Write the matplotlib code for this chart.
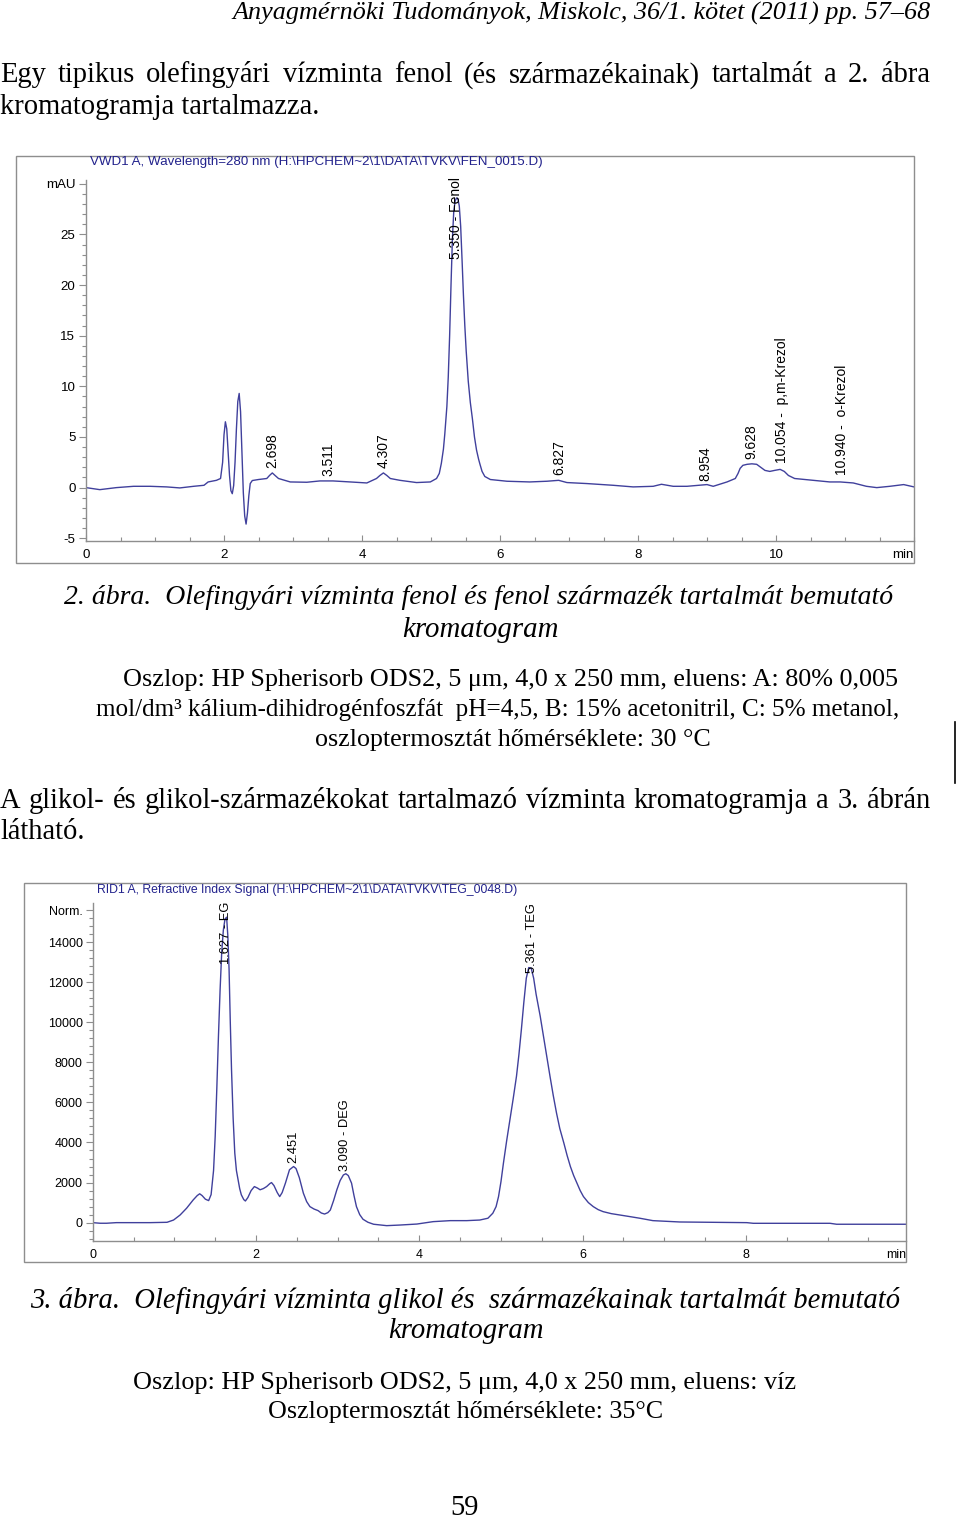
import matplotlib

matplotlib.use("Agg")
import matplotlib.pyplot as plt
from matplotlib.patches import Rectangle
from matplotlib.ticker import MultipleLocator

W, H = 960, 1520

# --- 2. abra: VWD1 A, 280 nm (mAU vs min) ---
fen_time = [0.00, 0.20, 0.44, 0.69, 0.93, 1.17, 1.36, 1.56, 1.71, 1.77, 1.89, 1.95,
            1.98, 2.00, 2.02, 2.04, 2.06, 2.08, 2.10, 2.12, 2.14, 2.16, 2.18, 2.20,
            2.22, 2.24, 2.26, 2.28, 2.30, 2.32, 2.34, 2.36, 2.38, 2.41, 2.50, 2.62,
            2.66, 2.70, 2.74, 2.79, 2.96, 3.20, 3.39, 3.58, 3.83, 4.07, 4.21, 4.26,
            4.31, 4.36, 4.41, 4.55, 4.79, 4.99, 5.08, 5.12, 5.15, 5.18, 5.20, 5.23,
            5.25, 5.27, 5.29, 5.31, 5.33, 5.35, 5.37, 5.39, 5.41, 5.43, 5.45, 5.47,
            5.49, 5.51, 5.54, 5.57, 5.60, 5.63, 5.66, 5.69, 5.71, 5.74, 5.78, 5.86,
            6.10, 6.43, 6.68, 6.85, 6.97, 7.26, 7.64, 7.93, 8.22, 8.34, 8.51, 8.71,
            9.00, 9.09, 9.29, 9.41, 9.45, 9.48, 9.52, 9.58, 9.65, 9.72, 9.78, 9.84,
            9.91, 9.98, 10.06, 10.12, 10.18, 10.27, 10.54, 10.78, 10.93, 11.12, 11.31, 11.46,
            11.65, 11.85, 12.00]
fen_mau = [0.0, -0.2, 0.0, 0.13, 0.13, 0.07, -0.03, 0.13, 0.23, 0.56, 0.72, 0.9,
           2.5, 5.2, 6.5, 5.8, 3.5, 1.2, -0.3, -0.6, 0.2, 2.5, 5.8, 8.5,
           9.3, 7.5, 3.5, -0.5, -2.8, -3.6, -2.5, -0.8, 0.4, 0.7, 0.8, 0.9,
           1.2, 1.45, 1.2, 0.9, 0.56, 0.53, 0.66, 0.66, 0.56, 0.46, 0.9, 1.2,
           1.45, 1.2, 0.9, 0.72, 0.5, 0.56, 0.9, 1.4, 2.4, 3.8, 5.3, 8.0,
           10.9, 15.0, 20.0, 24.5, 27.3, 28.3, 28.6, 28.5, 27.8, 25.8, 22.5, 19.0,
           16.0, 13.5, 10.5, 8.4, 6.8, 5.0, 3.7, 2.8, 2.3, 1.6, 1.1, 0.8,
           0.63, 0.56, 0.63, 0.72, 0.5, 0.4, 0.23, 0.07, 0.13, 0.33, 0.13, 0.13,
           0.3, 0.13, 0.56, 0.9, 1.4, 1.9, 2.2, 2.3, 2.35, 2.3, 2.0, 1.7,
           1.6, 1.7, 1.8, 1.6, 1.2, 0.9, 0.72, 0.56, 0.56, 0.46, 0.13, 0.0,
           0.13, 0.3, 0.07]
fen_label_time = [2.70, 3.52, 4.31, 5.36, 6.86, 8.98, 9.65, 10.08, 10.95]
fen_label_base = [1.9, 1.1, 1.9, 22.6, 1.2, 0.7, 2.8, 2.4, 1.2]
fen_labels = ["2.698", "3.511", "4.307", "5.350 - Fenol", "6.827", "8.954", "9.628",
              "10.054 -  p,m-Krezol", "10.940 -  o-Krezol"]
fen_yticks = [-5, 0, 5, 10, 15, 20, 25, 30]
fen_yticklabels = ["-5", "0", "5", "10", "15", "20", "25", "mAU"]
fen_xticks = [0, 2, 4, 6, 8, 10]
fen_title = "VWD1 A, Wavelength=280 nm (H:\\HPCHEM~2\\1\\DATA\\TVKV\\FEN_0015.D)"

# --- 3. abra: RID1 A, refractive index signal ---
teg_time = [0.00, 0.09, 0.17, 0.29, 0.70, 0.91, 0.99, 1.07, 1.15, 1.23, 1.28, 1.31,
            1.34, 1.38, 1.42, 1.45, 1.48, 1.50, 1.52, 1.54, 1.56, 1.58, 1.60, 1.62,
            1.64, 1.655, 1.67, 1.685, 1.70, 1.72, 1.74, 1.76, 1.78, 1.80, 1.82, 1.85,
            1.87, 1.90, 1.94, 1.98, 2.02, 2.05, 2.09, 2.13, 2.17, 2.19, 2.22, 2.26,
            2.29, 2.32, 2.36, 2.41, 2.46, 2.49, 2.53, 2.58, 2.62, 2.66, 2.71, 2.76,
            2.80, 2.84, 2.88, 2.91, 2.95, 2.99, 3.03, 3.07, 3.10, 3.13, 3.17, 3.20,
            3.23, 3.27, 3.31, 3.37, 3.44, 3.60, 3.76, 3.97, 4.17, 4.38, 4.58, 4.74,
            4.84, 4.90, 4.94, 4.97, 5.00, 5.03, 5.07, 5.11, 5.15, 5.19, 5.22, 5.25,
            5.28, 5.31, 5.34, 5.37, 5.40, 5.43, 5.48, 5.54, 5.60, 5.64, 5.68, 5.72,
            5.77, 5.81, 5.85, 5.89, 5.93, 5.97, 6.01, 6.07, 6.13, 6.19, 6.25, 6.35,
            6.46, 6.58, 6.70, 6.86, 7.19, 8.01, 8.09, 9.03, 9.11, 9.96]
teg_signal = [0, -30, -30, 0, 0, 17, 130, 380, 720, 1130, 1350, 1440,
              1350, 1170, 1100, 1400, 2600, 4300, 6700, 9300, 11600, 13500, 14600, 15150,
              15240, 14300, 12650, 10000, 7640, 5200, 3470, 2600, 2140, 1700, 1390, 1150,
              1080, 1250, 1600, 1800, 1720, 1640, 1700, 1800, 1950, 2000, 1850, 1500,
              1300, 1500, 1970, 2640, 2800, 2700, 2250, 1470, 1050, 800, 680, 600,
              480, 430, 500, 630, 1100, 1640, 2100, 2380, 2440, 2350, 1970, 1350,
              800, 400, 170, 20, -80, -150, -120, -70, 50, 100, 100, 130,
              220, 470, 800, 1300, 2050, 2970, 4100, 5140, 6200, 7310, 8400, 9650,
              11000, 12200, 12730, 12700, 12200, 11400, 10310, 8810, 7310, 6350, 5470, 4700,
              3970, 3350, 2800, 2350, 1970, 1600, 1300, 1000, 800, 650, 550, 450,
              380, 300, 220, 100, 33, 0, -33, -33, -80, -80]
teg_label_time = [1.63, 2.456, 3.09, 5.375]
teg_label_base = [12930, 2970, 2590, 12480]
teg_labels = ["1.627 - EG", "2.451", "3.090 - DEG", "5.361 - TEG"]
teg_yticks = [0, 2000, 4000, 6000, 8000, 10000, 12000, 14000, 15600]
teg_yticklabels = ["0", "2000", "4000", "6000", "8000", "10000", "12000", "14000", "Norm."]
teg_xticks = [0, 2, 4, 6, 8]
teg_title = "RID1 A, Refractive Index Signal (H:\\HPCHEM~2\\1\\DATA\\TVKV\\TEG_0048.D)"

GRAY = "#8e8e8e"
TRACE = "#40409c"
TITLE = "#22228c"
SANS = "Liberation Sans"
SERIF = "Liberation Serif"

fig = plt.figure(figsize=(W / 100, H / 100), dpi=100)
fig.patch.set_facecolor("white")
renderer = fig.canvas.get_renderer()


def fx(x):
    return x / W


def fy(y):
    return 1 - y / H


def put(x, y, s, **kw):
    return fig.text(fx(x), fy(y), s, **kw)


def fitted(x0, x1, y, s, **kw):
    # size the line so that it spans x0..x1 like on the scan
    t = put(x0, y, s, fontsize=20, va="center", family=SERIF, **kw)
    w = t.get_window_extent(renderer).width
    t.set_fontsize(20 * (x1 - x0) / w)
    return t


def justified(x0, x1, y, s, size, **kw):
    words = s.split()
    arts = [put(0, y, w, fontsize=size, va="center", family=SERIF, **kw) for w in words]
    widths = [a.get_window_extent(renderer).width for a in arts]
    gap = (x1 - x0 - sum(widths)) / (len(words) - 1)
    x = x0
    for a, w in zip(arts, widths):
        a.set_x(fx(x))
        x += w + gap


def box(x0, y0, x1, y1):
    fig.add_artist(Rectangle((fx(x0), fy(y1)), (x1 - x0) / W, (y1 - y0) / H,
                             transform=fig.transFigure, fill=False, ec=GRAY, lw=1.0))


def chromatogram(rect, xlim, ylim, t, y, xticks, yticks, yticklabels, yminor,
                 labels_t, labels_y, labels, title, title_xy, size, tsize, lsize,
                 xpad, ypad):
    x0, y0, x1, y1 = rect
    ax = fig.add_axes([fx(x0), fy(y1), (x1 - x0) / W, (y1 - y0) / H])
    ax.plot(t, y, color=TRACE, lw=1.0)
    ax.set_xlim(*xlim)
    ax.set_ylim(*ylim)
    for side in ("top", "right"):
        ax.spines[side].set_visible(False)
    for side in ("left", "bottom"):
        ax.spines[side].set_color(GRAY)
        ax.spines[side].set_linewidth(1.0)
    ax.set_xticks(xticks)
    ax.set_xticklabels([str(v) for v in xticks], family=SANS)
    ax.xaxis.set_minor_locator(MultipleLocator(0.5))
    ax.set_yticks(yticks)
    ax.set_yticklabels(yticklabels, family=SANS)
    ax.yaxis.set_minor_locator(MultipleLocator(yminor))
    ax.tick_params(axis="x", which="major", direction="in", length=4, width=0.8,
                   color=GRAY, labelsize=size, pad=xpad)
    ax.tick_params(axis="x", which="minor", direction="in", length=3, width=0.8, color=GRAY)
    ax.tick_params(axis="y", which="major", direction="out", length=5, width=0.8,
                   color=GRAY, labelsize=size, pad=ypad)
    ax.tick_params(axis="y", which="minor", direction="out", length=3, width=0.8, color=GRAY)
    ax.annotate("min", xy=(1, 0), xycoords="axes fraction", xytext=(0, -xpad),
                textcoords="offset points", ha="right", va="top", fontsize=size, family=SANS)
    for lt, ly, lab in zip(labels_t, labels_y, labels):
        ax.text(lt, ly, lab, rotation=90, ha="center", va="bottom", fontsize=lsize,
                family=SANS, clip_on=False)
    put(title_xy[0], title_xy[1], title, fontsize=tsize, family=SANS, color=TITLE,
        va="center")
    return ax


# page header and body text
fitted(232, 930, 13, "Anyagmérnöki Tudományok, Miskolc, 36/1. kötet (2011) pp. 57–68",
       style="italic")
body = fitted(0, 320, 107, "kromatogramja tartalmazza.")
bsize = body.get_fontsize()
justified(0, 930, 75, "Egy tipikus olefingyári vízminta fenol (és származékainak) tartalmát a 2. ábra",
          bsize)

# figure 2
box(16, 156, 914, 563)
chromatogram((86, 180, 914, 541), (0, 12), (-5.27, 30.37), fen_time, fen_mau,
             fen_xticks, fen_yticks, fen_yticklabels, 1,
             fen_label_time, fen_label_base, fen_labels, fen_title, (90, 162),
             9.6, 9.6, 10.0, 6, 2.6)

fitted(64, 893, 597, "2. ábra.  Olefingyári vízminta fenol és fenol származék tartalmát bemutató",
       style="italic")
fitted(402, 558, 630, "kromatogram", style="italic")
fitted(123, 898, 680, "Oszlop: HP Spherisorb ODS2, 5 μm, 4,0 x 250 mm, eluens: A: 80% 0,005")
fitted(96, 898, 710, "mol/dm³ kálium-dihidrogénfoszfát  pH=4,5, B: 15% acetonitril, C: 5% metanol,")
fitted(315, 710, 740, "oszloptermosztát hőmérséklete: 30 °C")
fig.add_artist(plt.Line2D([fx(955), fx(955)], [fy(722), fy(783)],
                          transform=fig.transFigure, color="black", lw=1.2))
justified(0, 930, 801, "A glikol- és glikol-származékokat tartalmazó vízminta kromatogramja a 3. ábrán",
          bsize)
put(0, 832, "látható.", fontsize=bsize, family=SERIF, va="center")

# figure 3
box(24, 883, 906, 1262)
chromatogram((92.7, 903, 906, 1241), (0, 9.96), (-916, 15950), teg_time, teg_signal,
             teg_xticks, teg_yticks, teg_yticklabels, 400,
             teg_label_time, teg_label_base, teg_labels, teg_title, (96.7, 890),
             9.0, 8.8, 9.3, 5.4, 2.2)

fitted(30, 898, 1300, "3. ábra.  Olefingyári vízminta glikol és  származékainak tartalmát bemutató",
       style="italic")
fitted(388, 543, 1331, "kromatogram", style="italic")
fitted(133, 796, 1383, "Oszlop: HP Spherisorb ODS2, 5 μm, 4,0 x 250 mm, eluens: víz")
fitted(268, 662, 1412, "Oszloptermosztát hőmérséklete: 35°C")
put(465, 1508, "59", fontsize=bsize, family=SERIF, va="center", ha="center")

fig.savefig("out.png", dpi=100)
